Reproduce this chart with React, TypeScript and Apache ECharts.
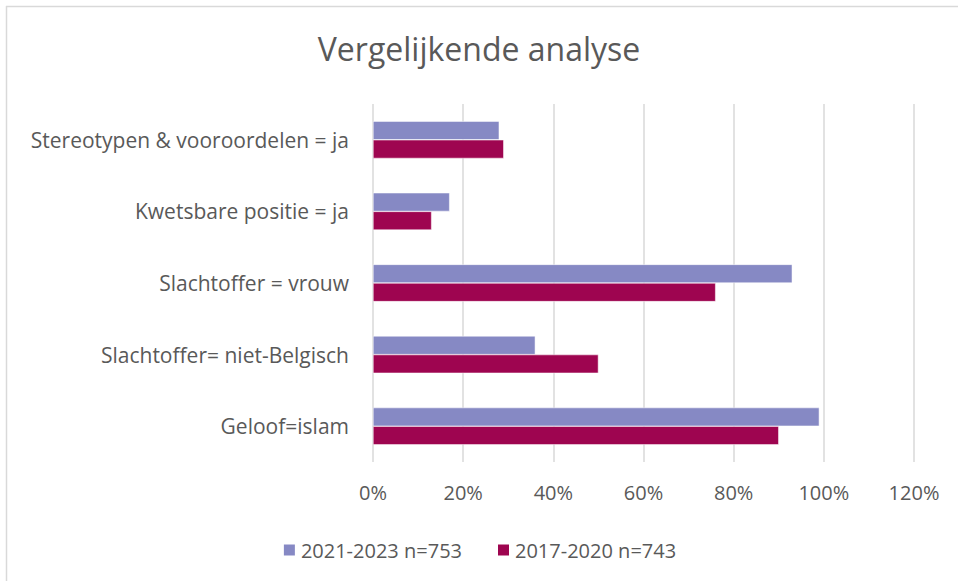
import React, { useEffect, useRef } from "react";
import * as echarts from "echarts";

const categories = [
  "Stereotypen & vooroordelen = ja",
  "Kwetsbare positie = ja",
  "Slachtoffer = vrouw",
  "Slachtoffer= niet-Belgisch",
  "Geloof=islam",
];
const seriesNames = ["2021-2023 n=753", "2017-2020 n=743"];
const values2021 = [28, 17, 93, 36, 99];
const values2017 = [29, 13, 76, 50, 90];
const colors = ["#8689C4", "#9E0550"];

const FONT = "'Open Sans', sans-serif";
const TXT = "#595959";

export default function App() {
  const ref = useRef<HTMLDivElement>(null);
  useEffect(() => {
    document.body.style.margin = "0";
    const chart = echarts.init(ref.current!, null, { renderer: "svg" });
    const cats = [...categories].reverse();
    const d1 = [...values2021].reverse();
    const d2 = [...values2017].reverse();
    chart.setOption({
      animation: false,
      backgroundColor: "#ffffff",
      title: {
        text: "Vergelijkende analyse",
        left: "center",
        top: 27,
        textStyle: { fontFamily: FONT, fontSize: 32, fontWeight: "normal", color: TXT },
      },
      legend: {
        data: seriesNames,
        left: "center",
        top: 535,
        itemWidth: 13,
        itemHeight: 13,
        itemGap: 34,
        icon: "rect",
        textStyle: { fontFamily: FONT, fontSize: 20, color: TXT },
      },
      grid: { left: 373, right: 44, top: 104, bottom: 119, containLabel: false },
      xAxis: {
        type: "value",
        min: 0,
        max: 120,
        interval: 20,
        axisLabel: {
          formatter: "{value}%",
          fontFamily: FONT,
          fontSize: 20,
          color: TXT,
          margin: 20,
        },
        splitLine: { lineStyle: { color: "#D9D9D9", width: 1.5 } },
        axisLine: { show: false },
        axisTick: { show: false },
      },
      yAxis: {
        type: "category",
        data: cats,
        axisLabel: { fontFamily: FONT, fontSize: 21, color: TXT, margin: 24 },
        axisLine: { show: false },
        axisTick: { show: false },
      },
      series: [
        {
          name: seriesNames[0],
          type: "bar",
          data: d1,
          itemStyle: { color: colors[0], borderColor: "#ffffff", borderWidth: 0.5 },
          barGap: "0%",
          barCategoryGap: "48%",
        },
        {
          name: seriesNames[1],
          type: "bar",
          data: d2,
          itemStyle: { color: colors[1], borderColor: "#ffffff", borderWidth: 0.5 },
          barGap: "0%",
          barCategoryGap: "48%",
        },
      ],
      graphic: [
        {
          type: "line",
          shape: { x1: 6.5, y1: 6, x2: 6.5, y2: 600 },
          style: { stroke: "#D9D9D9", lineWidth: 1.5 },
        },
        {
          type: "line",
          shape: { x1: 6, y1: 6.5, x2: 1000, y2: 6.5 },
          style: { stroke: "#D9D9D9", lineWidth: 1.5 },
        },
      ],
    });
    return () => chart.dispose();
  }, []);
  return <div ref={ref} style={{ width: 958, height: 581 }} />;
}
